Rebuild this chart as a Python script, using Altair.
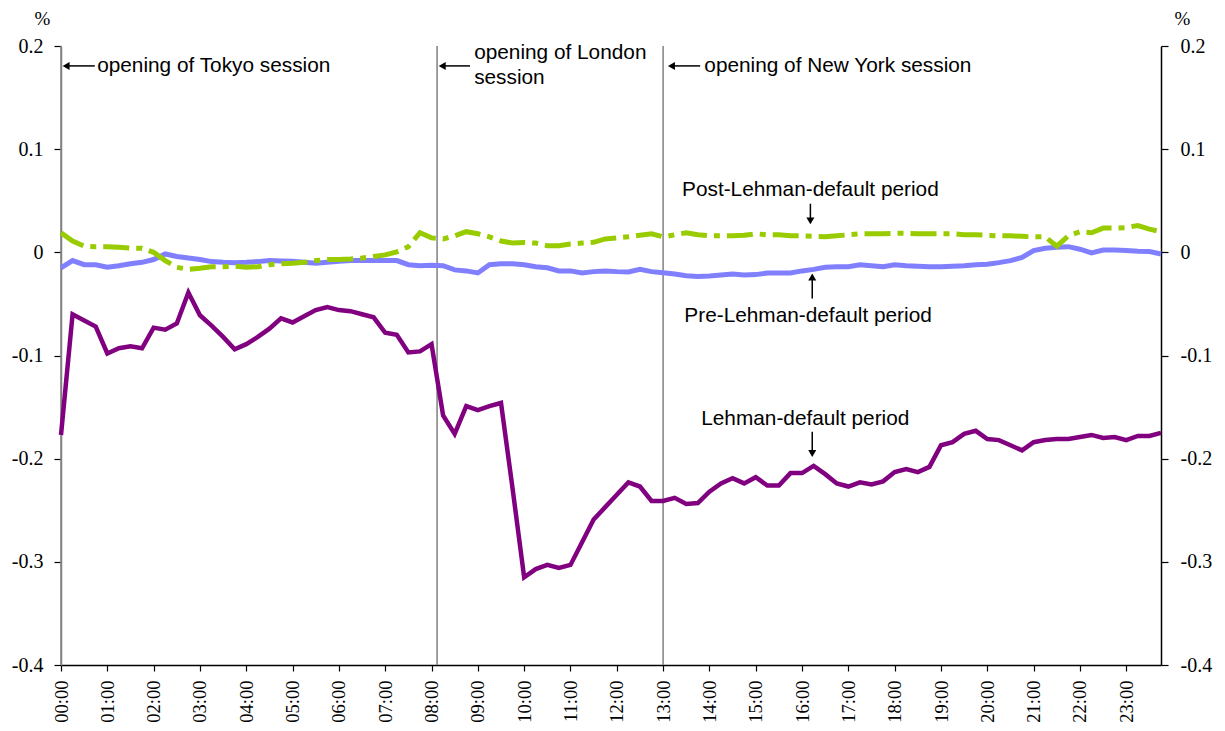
import altair as alt
import pandas as pd

# ---- data (15-minute steps, 00:00 .. 23:45) ----
lehman = [-0.177, -0.060, -0.066, -0.072, -0.098, -0.093, -0.091, -0.093, -0.073, -0.075, -0.069, -0.039,
          -0.061, -0.071, -0.082, -0.094, -0.089, -0.082, -0.074, -0.064, -0.068, -0.062, -0.056, -0.053,
          -0.056, -0.057, -0.060, -0.063, -0.078, -0.080, -0.097, -0.096, -0.089, -0.158, -0.176, -0.149,
          -0.153, -0.149, -0.146, -0.229, -0.315, -0.307, -0.303, -0.306, -0.303, -0.281, -0.259, -0.247,
          -0.235, -0.223, -0.227, -0.241, -0.241, -0.238, -0.244, -0.243, -0.232, -0.224, -0.219, -0.224,
          -0.218, -0.226, -0.226, -0.214, -0.214, -0.207, -0.215, -0.224, -0.227, -0.223, -0.225, -0.222,
          -0.213, -0.210, -0.213, -0.208, -0.187, -0.184, -0.176, -0.173, -0.181, -0.182, -0.187, -0.192,
          -0.184, -0.182, -0.181, -0.181, -0.179, -0.177, -0.180, -0.179, -0.182, -0.178, -0.178, -0.175]

post_lehman = [0.019, 0.011, 0.006, 0.0055, 0.0055, 0.005, 0.004, 0.004, 0.0, -0.008, -0.0145, -0.0165,
               -0.0155, -0.014, -0.014, -0.0135, -0.0145, -0.014, -0.012, -0.011, -0.0105, -0.0097, -0.008, -0.007,
               -0.007, -0.0065, -0.0055, -0.004, -0.0025, 0.0005, 0.0055, 0.019, 0.014, 0.013, 0.016, 0.020,
               0.018, 0.015, 0.011, 0.009, 0.0095, 0.009, 0.0065, 0.0065, 0.008, 0.009, 0.0097, 0.013,
               0.014, 0.015, 0.0165, 0.018, 0.015, 0.017, 0.019, 0.017, 0.016, 0.016, 0.016, 0.0165,
               0.018, 0.017, 0.017, 0.016, 0.016, 0.0155, 0.015, 0.016, 0.017, 0.018, 0.018, 0.018,
               0.0185, 0.0185, 0.018, 0.018, 0.018, 0.018, 0.017, 0.017, 0.0165, 0.016, 0.016, 0.0155,
               0.015, 0.015, 0.006, 0.016, 0.020, 0.019, 0.0235, 0.0235, 0.024, 0.026, 0.0225, 0.020]

pre_lehman = [-0.015, -0.008, -0.012, -0.012, -0.0145, -0.013, -0.011, -0.0097, -0.007, -0.0016, -0.004, -0.0055,
              -0.007, -0.009, -0.0097, -0.010, -0.0097, -0.009, -0.008, -0.0084, -0.0087, -0.0097, -0.0106, -0.0097,
              -0.0087, -0.008, -0.008, -0.008, -0.008, -0.008, -0.012, -0.013, -0.0125, -0.013, -0.017, -0.018,
              -0.020, -0.012, -0.011, -0.011, -0.012, -0.014, -0.015, -0.018, -0.018, -0.020, -0.0187, -0.018,
              -0.0187, -0.019, -0.0165, -0.0187, -0.0197, -0.021, -0.0226, -0.0235, -0.023, -0.022, -0.021, -0.022,
              -0.0216, -0.020, -0.020, -0.020, -0.018, -0.0165, -0.0145, -0.014, -0.014, -0.012, -0.013, -0.014,
              -0.012, -0.013, -0.0135, -0.014, -0.014, -0.0135, -0.013, -0.012, -0.0116, -0.010, -0.008, -0.005,
              0.0017, 0.004, 0.005, 0.0055, 0.003, -0.0006, 0.0023, 0.0023, 0.0017, 0.001, 0.0007, -0.0016]

hour_ticks = list(range(24))
y_ticks = [-0.4, -0.3, -0.2, -0.1, 0, 0.1, 0.2]

# session openings (hours)
session_hours = [0.0, 8.12, 13.0]

# annotation texts
ann_text = ["opening of Tokyo session", "opening of London", "session",
            "opening of New York session", "Post-Lehman-default period",
            "Pre-Lehman-default period", "Lehman-default period"]
ann_t = [0.78, 8.92, 8.92, 13.89, 16.18, 16.13, 16.07]
ann_v = [0.1807, 0.1933, 0.169, 0.1807, 0.0607, -0.0613, -0.162]
ann_align = ["left", "left", "left", "left", "center", "center", "center"]

# arrows: tail -> head
arr_t1 = [0.73, 8.83, 13.80, 16.18, 16.22, 16.22]
arr_v1 = [0.1807, 0.1807, 0.1807, 0.0471, -0.0448, -0.174]
arr_t2 = [0.11, 8.23, 13.18, 16.18, 16.22, 16.22]
arr_v2 = [0.1807, 0.1807, 0.1807, 0.0305, -0.0240, -0.1950]
arr_shape = ["triangle-left", "triangle-left", "triangle-left", "triangle-down", "triangle-up", "triangle-down"]

# ---- tables ----
n = len(lehman)
times = [i * 0.25 for i in range(n)]
df = pd.DataFrame({
    "t": times * 3,
    "v": pre_lehman + post_lehman + lehman,
    "series": ["pre"] * n + ["post"] * n + ["lehman"] * n,
})
ann_df = pd.DataFrame({"t": ann_t, "v": ann_v, "text": ann_text, "align": ann_align})
arr_df = pd.DataFrame({"t": arr_t1, "v": arr_v1, "t2": arr_t2, "v2": arr_v2, "shape": arr_shape})
sess_df = pd.DataFrame({"t": session_hours, "lo": [-0.4] * 3, "hi": [0.2] * 3})

x_scale = alt.Scale(domain=[0, 23.75], nice=False, zero=False)
y_scale = alt.Scale(domain=[-0.4, 0.2], nice=False, zero=False)

x_axis = alt.Axis(values=hour_ticks, labelAngle=-90,
                  labelExpr="(datum.value < 10 ? '0' : '') + datum.value + ':00'",
                  labelFont="Liberation Serif", labelFontSize=18.5, labelColor="black",
                  tickSize=6, tickColor="black", tickWidth=1.2, labelPadding=9,
                  domainColor="black", domainWidth=1.5, grid=False, title=None)

ylabel = ("datum.value == 0 ? '0' : (datum.value < 0 ? '-' + format(-datum.value, '.1f') "
          ": format(datum.value, '.1f'))")

y_axis_left = alt.Axis(values=y_ticks, labelExpr=ylabel, orient="left",
                       labelFont="Liberation Serif", labelFontSize=20, labelColor="black",
                       tickSize=7, tickColor="black", tickWidth=1.2, labelPadding=11,
                       domainColor="#808080", domainWidth=1.5, grid=False,
                       title="%", titleAngle=0, titleX=-19, titleY=-28, titleAlign="center",
                       titleBaseline="middle", titleFont="Liberation Serif", titleFontSize=19,
                       titleFontWeight="normal", titleColor="black")

y_axis_right = alt.Axis(values=y_ticks, labelExpr=ylabel, orient="right",
                        labelFont="Liberation Serif", labelFontSize=20, labelColor="black",
                        tickSize=7, tickColor="black", tickWidth=1.2, labelPadding=12,
                        domainColor="black", domainWidth=1.5, grid=False,
                        title="%", titleAngle=0, titleX=21, titleY=-28, titleAlign="center",
                        titleBaseline="middle", titleFont="Liberation Serif", titleFontSize=19,
                        titleFontWeight="normal", titleColor="black")

X = alt.X("t:Q", scale=x_scale, axis=x_axis)
Y = alt.Y("v:Q", scale=y_scale, axis=y_axis_left)

sessions = alt.Chart(sess_df).mark_rule(color="#808080", strokeWidth=1.5).encode(
    x=X, y=alt.Y("lo:Q", scale=y_scale, axis=y_axis_left), y2="hi:Q")

base = alt.Chart(df)
pre_line = base.transform_filter("datum.series == 'pre'").mark_line(
    color="#8080FF", strokeWidth=5).encode(x=X, y=Y, order="t:Q")
post_line = base.transform_filter("datum.series == 'post'").mark_line(
    color="#99CC00", strokeWidth=5, strokeDash=[26, 7, 6, 7]).encode(x=X, y=Y, order="t:Q")
leh_line = base.transform_filter("datum.series == 'lehman'").mark_line(
    color="#800080", strokeWidth=4.5).encode(x=X, y=Y, order="t:Q")

texts_left = alt.Chart(ann_df).transform_filter("datum.align == 'left'").mark_text(
    font="Liberation Sans", fontSize=20.8, color="black", baseline="middle", align="left").encode(
    x=X, y=Y, text="text:N")
texts_center = alt.Chart(ann_df).transform_filter("datum.align == 'center'").mark_text(
    font="Liberation Sans", fontSize=20.8, color="black", baseline="middle", align="center").encode(
    x=X, y=Y, text="text:N")

arrow_lines = alt.Chart(arr_df).mark_rule(color="black", strokeWidth=1.5).encode(
    x=X, y=Y, x2="t2:Q", y2="v2:Q")
arrow_heads = alt.Chart(arr_df).mark_point(filled=True, color="black", size=65, opacity=1).encode(
    x=alt.X("t2:Q", scale=x_scale, axis=x_axis),
    y=alt.Y("v2:Q", scale=y_scale, axis=y_axis_left),
    shape=alt.Shape("shape:N", scale=None, legend=None))

left = alt.layer(sessions, pre_line, post_line, leh_line, arrow_lines, arrow_heads,
                 texts_left, texts_center)

right = alt.Chart(df).mark_line(opacity=0).encode(
    x=X, y=alt.Y("v:Q", scale=y_scale, axis=y_axis_right), detail="series:N")

chart = alt.layer(left, right).resolve_scale(y="independent").properties(
    width=1100, height=619,
    padding={"left": 53, "top": 38, "right": 55, "bottom": 58},
    autosize=alt.AutoSizeParams(type="none"),
    background="white",
).configure_view(strokeWidth=0)

chart.save("out.html", embed_options={"renderer": "svg", "actions": False})
